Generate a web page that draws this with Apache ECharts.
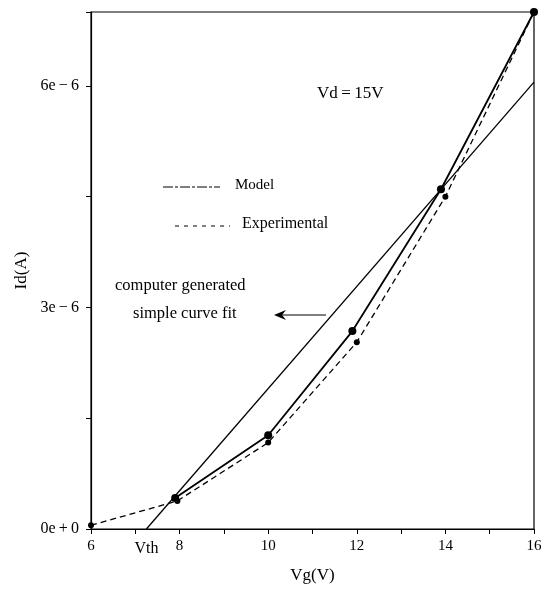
<!DOCTYPE html>
<html>

<head>
    <meta charset="UTF-8">
    <title>Id - Vg</title>
    <script type="text/javascript" src="https://cdn.jsdelivr.net/npm/echarts@6/dist/echarts.min.js"></script>
</head>

<body style="margin: 0;padding: 0;">
    <div id="container" style="width:546px; height:589px;"></div>
    <script>
        // Id values are in units of 1e-6 A
        var modelVg = [7.9, 10, 11.9, 13.9, 16];
        var modelId = [0.42, 1.27, 2.68, 4.6, 7.0];
        var expVg = [6, 7.95, 10, 12, 14, 16];
        var expId = [0.05, 0.38, 1.17, 2.53, 4.5, 7.0];
        var fitVg = [7.25, 16];
        var fitId = [0, 6.05];
        var vth = 7.25;
        var yLabels = {0: '0e\u2009+\u20090', 30: '3e\u2009\u2212\u20096', 60: '6e\u2009\u2212\u20096'};

        var serif = 'Liberation Serif';
        var chart = echarts.init(document.getElementById('container'), null, { renderer: 'canvas' });

        function pairs(xs, ys) {
            return xs.map((x, i) => [x, ys[i]]);
        }

        var option = {
            animation: false,
            grid: {
                left: 91, right: 12, top: 12, bottom: 59,
                show: true, borderColor: '#000', borderWidth: 1.2
            },
            xAxis: {
                type: 'value', min: 6, max: 16, interval: 1,
                name: 'Vg(V)', nameLocation: 'middle', nameGap: 38,
                nameTextStyle: { fontFamily: serif, fontSize: 17, color: '#000' },
                axisLine: { lineStyle: { color: '#000', width: 1.2 } },
                axisTick: { length: 5, lineStyle: { color: '#000' } },
                axisLabel: {
                    fontFamily: serif, fontSize: 15, color: '#000', margin: 10,
                    formatter: v => (Math.round(v) % 2 === 0 ? String(v) : '')
                },
                splitLine: { show: false }
            },
            yAxis: {
                type: 'value', min: 0, max: 7, interval: 1.5,
                name: 'Id(A)', nameLocation: 'middle', nameGap: 60,
                nameTextStyle: { fontFamily: serif, fontSize: 17, color: '#000' },
                axisLine: { lineStyle: { color: '#000', width: 1.2 } },
                axisTick: { length: 5, lineStyle: { color: '#000' } },
                axisLabel: {
                    fontFamily: serif, fontSize: 16, color: '#000', margin: 12,
                    formatter: v => yLabels[Math.round(v * 10)] || ''
                },
                splitLine: { show: false }
            },
            series: [{
                name: 'fit', type: 'line', data: pairs(fitVg, fitId),
                symbol: 'none', lineStyle: { color: '#000', width: 1.3 }
            }, {
                name: 'Experimental', type: 'line', data: pairs(expVg, expId),
                symbol: 'circle', symbolSize: 6,
                itemStyle: { color: '#000' },
                lineStyle: { color: '#000', width: 1.3, type: [6, 4] }
            }, {
                name: 'Model', type: 'line', data: pairs(modelVg, modelId),
                symbol: 'circle', symbolSize: 8,
                itemStyle: { color: '#000' },
                lineStyle: { color: '#000', width: 1.8 }
            }, {
                name: 'Vth', type: 'scatter', data: [[vth, 0]], symbolSize: 0,
                itemStyle: { color: '#000', opacity: 1 },
                label: {
                    show: true, position: 'bottom', distance: 12,
                    formatter: 'Vth', fontFamily: serif, fontSize: 16, color: '#000'
                }
            }],
            graphic: [
                // legend
                { type: 'line', shape: { x1: 163, y1: 187, x2: 220, y2: 187 },
                  style: { stroke: '#000', lineWidth: 1, lineDash: [10, 2, 3, 2] } },
                { type: 'text', left: 235, top: 178,
                  style: { text: 'Model', font: '15px "Liberation Serif"', fill: '#000' } },
                { type: 'line', shape: { x1: 175, y1: 226, x2: 230, y2: 226 },
                  style: { stroke: '#000', lineWidth: 1, lineDash: [4, 5] } },
                { type: 'text', left: 242, top: 216,
                  style: { text: 'Experimental', font: '16px "Liberation Serif"', fill: '#000' } },
                // annotations
                { type: 'text', left: 317, top: 85,
                  style: { text: 'Vd\u2009=\u200915V', font: '17px "Liberation Serif"', fill: '#000' } },
                { type: 'text', left: 115, top: 277,
                  style: { text: 'computer generated', font: '16.5px "Liberation Serif"', fill: '#000' } },
                { type: 'text', left: 133, top: 305,
                  style: { text: 'simple curve fit', font: '16.5px "Liberation Serif"', fill: '#000' } },
                { type: 'line', shape: { x1: 276, y1: 315, x2: 326, y2: 315 },
                  style: { stroke: '#000', lineWidth: 1 } },
                { type: 'polygon', shape: { points: [[274, 315], [286, 310], [282, 315], [286, 320]] },
                  style: { fill: '#000' } }
            ]
        };
        chart.setOption(option);
    </script>
</body>

</html>
